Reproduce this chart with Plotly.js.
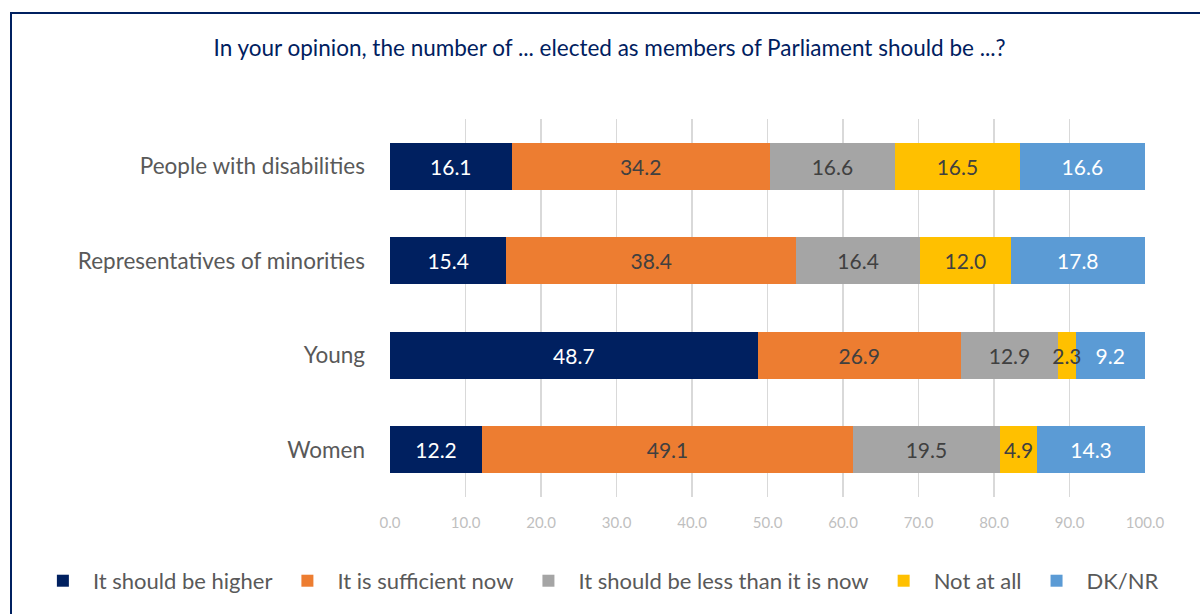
<!DOCTYPE html>
<html>
<head>
<meta charset="utf-8">
<script src="https://cdn.plot.ly/plotly-3.0.1.min.js"></script>
<style>
  html, body { margin: 0; padding: 0; width: 1200px; height: 614px; overflow: hidden; background: #fff; }
  #chart { position: absolute; left: 0; top: 0; width: 1200px; height: 614px; }
  #frame { position: absolute; left: 10px; top: 12px; width: 1300px; height: 700px;
           border-top: 2px solid #002060; border-left: 2px solid #002060; pointer-events: none; }
</style>
</head>
<body>
<div id="chart"></div>
<div id="frame"></div>
<script>
const categories = ["People with disabilities", "Representatives of minorities", "Young", "Women"];
const seriesNames = ["It should be higher", "It is sufficient now", "It should be less than it is now", "Not at all", "DK/NR"];
const higher = [16.1, 15.4, 48.7, 12.2];
const sufficient = [34.2, 38.4, 26.9, 49.1];
const less = [16.6, 16.4, 12.9, 19.5];
const notAtAll = [16.5, 12.0, 2.3, 4.9];
const dknr = [16.6, 17.8, 9.2, 14.3];
const xTicks = [0, 10, 20, 30, 40, 50, 60, 70, 80, 90, 100];
const titleText = "In your opinion, the number of ... elected as members of Parliament should be ...?";

const values = [higher, sufficient, less, notAtAll, dknr];
const colors = ["#002060", "#ED7D31", "#A5A5A5", "#FFC000", "#5B9BD5"];
const textColors = ["#FFFFFF", "#404040", "#404040", "#404040", "#FFFFFF"];
const zorders = [0, 0, 0, 1, 0];
const FONT = "Lato, 'Open Sans', sans-serif";

const traces = values.map((v, i) => ({
  type: "bar",
  orientation: "h",
  name: seriesNames[i],
  y: categories,
  x: v,
  zorder: zorders[i],
  marker: { color: colors[i], line: { width: 0 } },
  text: v.map(d => d.toFixed(1)),
  textposition: "inside",
  insidetextanchor: "middle",
  textangle: 0,
  constraintext: "none",
  textfont: { family: FONT, size: 21, color: textColors[i] },
  hoverinfo: "name+x"
}));

const layout = {
  width: 1200,
  height: 614,
  paper_bgcolor: "#ffffff",
  plot_bgcolor: "#ffffff",
  barmode: "stack",
  bargap: 0.5,
  margin: { l: 390, r: 55, t: 119, b: 117 },
  font: { family: FONT },
  title: {
    text: titleText,
    font: { family: FONT, size: 22.5, color: "#002060" },
    x: 0.508, xanchor: "center",
    y: 0.922, yanchor: "middle"
  },
  xaxis: {
    range: [0, 100],
    tickvals: xTicks,
    ticktext: xTicks.map(t => t.toFixed(1)),
    showgrid: true,
    gridcolor: "#D9D9D9",
    gridwidth: 1.5,
    zeroline: false,
    showline: false,
    ticks: "",
    ticklabelstandoff: 15,
    tickfont: { family: FONT, size: 15, color: "#BFBFBF" },
    fixedrange: true
  },
  yaxis: {
    type: "category",
    categoryorder: "array",
    categoryarray: categories.slice().reverse(),
    showgrid: false,
    zeroline: false,
    showline: false,
    ticks: "",
    ticklabelstandoff: 24,
    tickfont: { family: FONT, size: 22.5, color: "#595959" },
    fixedrange: true
  },
  legend: {
    orientation: "h",
    xref: "paper",
    x: -0.473, xanchor: "left",
    yref: "paper",
    y: -0.222, yanchor: "middle",
    font: { family: FONT, size: 22, color: "#595959" },
    traceorder: "normal",
    itemwidth: 50
  },
  showlegend: true
};

Plotly.newPlot("chart", traces, layout, { displayModeBar: false, staticPlot: true });
</script>
</body>
</html>
